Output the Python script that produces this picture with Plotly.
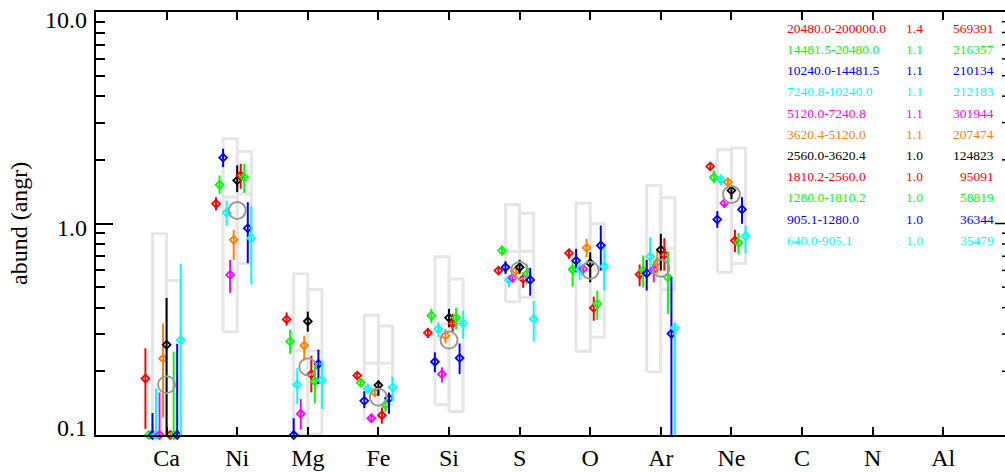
import numpy as np
import plotly.graph_objects as go

# ---- element axis ----
elements = ["Ca", "Ni", "Mg", "Fe", "Si", "S", "O", "Ar", "Ne", "C", "N", "Al"]
fitted = ["Ca", "Ni", "Mg", "Fe", "Si", "S", "O", "Ar", "Ne"]

# ---- y axis labels ----
ytick_vals = [0.1, 1.0, 10.0]
ytick_text = ["0.1", "1.0", "10.0"]
minor_vals = [0.2, 0.3, 0.4, 0.5, 0.6, 0.7, 0.8, 0.9, 2, 3, 4, 5, 6, 7, 8, 9]

# ---- energy bands (legend text) ----
band_ranges = ["20480.0-200000.0", "14481.5-20480.0", "10240.0-14481.5", "7240.8-10240.0",
               "5120.0-7240.8", "3620.4-5120.0", "2560.0-3620.4", "1810.2-2560.0",
               "1280.0-1810.2", "905.1-1280.0", "640.0-905.1"]
band_chi = ["1.4", "1.1", "1.1", "1.1", "1.1", "1.1", "1.0", "1.0", "1.0", "1.0", "1.0"]
band_counts = ["569391", "216357", "210134", "212183", "301944", "207474",
               "124823", "95091", "58819", "36344", "35479"]
band_colors = ["#ff0000", "#00ff00", "#0000ff", "#00ffff", "#ff00ff", "#ff8000",
               "#000000", "#ff0000", "#00ff00", "#0000ff", "#00ffff"]

# ---- abundances per element, one entry per band (value, lower, upper) ----
abund_Ca = [0.185, 0.1, 0.1, 0.1, 0.1, 0.230, 0.267, 0.1, 0.1, 0.1, 0.281]
low_Ca = [0.107, 0.1, 0.05, 0.05, 0.05, 0.121, 0.05, 0.1, 0.05, 0.05, 0.05]
high_Ca = [0.257, 0.1, 0.127, 0.166, 0.159, 0.337, 0.445, 0.1, 0.248, 0.270, 0.645]

abund_Ni = [1.240, 1.525, 2.047, 1.124, 0.572, 0.837, 1.598, 1.687, 1.656, 0.950, 0.852]
low_Ni = [1.152, 1.382, 1.847, 0.978, 0.470, 0.673, 1.407, 1.460, 1.398, 0.649, 0.514]
high_Ni = [1.332, 1.687, 2.258, 1.285, 0.673, 0.934, 1.882, 1.917, 1.917, 1.261, 1.204]

abund_Mg = [0.352, 0.277, 0.1, 0.173, 0.126, 0.265, 0.345, 0.194, 0.179, 0.217, 0.182]
low_Mg = [0.329, 0.242, 0.05, 0.140, 0.106, 0.225, 0.308, 0.159, 0.141, 0.174, 0.133]
high_Mg = [0.380, 0.314, 0.120, 0.207, 0.148, 0.295, 0.383, 0.237, 0.213, 0.253, 0.225]

abund_Fe = [0.191, 0.177, 0.145, 0.165, 0.120, 0.159, 0.172, 0.124, 0.139, 0.149, 0.168]
low_Fe = [0.184, 0.168, 0.134, 0.156, 0.116, 0.151, 0.153, 0.113, 0.128, 0.126, 0.145]
high_Fe = [0.198, 0.186, 0.161, 0.174, 0.126, 0.167, 0.181, 0.135, 0.151, 0.159, 0.189]

abund_Si = [0.304, 0.367, 0.222, 0.317, 0.194, 0.295, 0.358, 0.337, 0.358, 0.231, 0.337]
low_Si = [0.288, 0.339, 0.198, 0.290, 0.177, 0.271, 0.323, 0.306, 0.317, 0.194, 0.285]
high_Si = [0.321, 0.395, 0.246, 0.341, 0.209, 0.317, 0.395, 0.374, 0.399, 0.271, 0.387]

abund_S = [0.599, 0.745, 0.621, 0.541, 0.553, 0.599, 0.621, 0.547, 0.578, 0.541, 0.354]
low_S = [0.578, 0.706, 0.578, 0.500, 0.527, 0.561, 0.578, 0.496, 0.518, 0.456, 0.277]
high_S = [0.617, 0.787, 0.663, 0.567, 0.578, 0.633, 0.673, 0.588, 0.645, 0.617, 0.432]

abund_O = [0.724, 0.606, 0.668, 0.606, 0.610, 0.767, 0.649, 0.399, 0.417, 0.787, 0.628]
low_O = [0.681, 0.503, 0.588, 0.541, 0.578, 0.693, 0.527, 0.347, 0.350, 0.599, 0.482]
high_O = [0.759, 0.663, 0.759, 0.656, 0.633, 0.847, 0.732, 0.451, 0.482, 0.978, 0.772]

abund_Ar = [0.574, 0.601, 0.582, 0.698, 0.606, 0.656, 0.751, 0.711, 0.557, 0.301, 0.321]
low_Ar = [0.505, 0.500, 0.482, 0.588, 0.527, 0.578, 0.599, 0.599, 0.374, 0.05, 0.05]
high_Ar = [0.640, 0.706, 0.673, 0.861, 0.645, 0.745, 0.894, 0.852, 0.739, 0.557, 0.340]

abund_Ne = [1.862, 1.656, 1.045, 1.610, 1.248, 1.569, 1.433, 0.831, 0.810, 1.165, 0.871]
low_Ne = [1.796, 1.551, 0.954, 1.513, 1.187, 1.513, 1.303, 0.732, 0.713, 0.997, 0.724]
high_Ne = [1.917, 1.782, 1.144, 1.706, 1.295, 1.628, 1.485, 0.934, 0.900, 1.332, 0.978]

# combined (all-band) abundance per fitted element
combined = [0.173, 1.152, 0.210, 0.151, 0.281, 0.599, 0.601, 0.614, 1.372]

# summary boxes: left and right of each element (bottom, mid line, top)
left_top = [0.894, 2.518, 0.578, 0.368, 0.696, 1.226, 1.248, 1.513, 2.234]
left_mid = [None, 1.332, 0.2505, 0.2186, 0.3325, 0.739, 0.606, None, None]
left_bot = [0.05, 0.308, 0.101, 0.118, 0.139, 0.427, 0.249, 0.199, 0.588]
right_top = [0.537, 2.192, 0.487, 0.328, 0.547, 1.119, 0.997, 1.323, 2.273]
right_mid = [None, 1.382, 0.2505, 0.2186, 0.3325, 0.739, 0.606, 0.764, 1.217]
right_bot = [0.05, 0.649, 0.101, 0.139, 0.129, 0.448, 0.290, 0.486, 0.647]

values = [abund_Ca, abund_Ni, abund_Mg, abund_Fe, abund_Si, abund_S, abund_O, abund_Ar, abund_Ne]
lows = [low_Ca, low_Ni, low_Mg, low_Fe, low_Si, low_S, low_O, low_Ar, low_Ne]
highs = [high_Ca, high_Ni, high_Mg, high_Fe, high_Si, high_S, high_O, high_Ar, high_Ne]

SERIF = "Liberation Serif, Times New Roman, serif"
BOX_GREY = "#e6e6e6"
BOX_W = 0.2
STEP = 0.05

# plot-area geometry in pixels
plot_top, plot_bot, plot_left, plot_w = 12, 435, 96, 909


def px_x(px):
    return (px - plot_left) / plot_w


def px_y(py):
    return (plot_bot - py) / (plot_bot - plot_top)


xpos = {el: i + 1 for i, el in enumerate(elements)}
fig = go.Figure()

# grey summary boxes
bx, by = [], []
for k, el in enumerate(fitted):
    c = xpos[el]
    for x0, x1, b, m, t in ((c - BOX_W, c, left_bot[k], left_mid[k], left_top[k]),
                            (c, c + BOX_W, right_bot[k], right_mid[k], right_top[k])):
        bx += [x0, x1, x1, x0, x0, None]
        by += [b, b, t, t, b, None]
        if m is not None:
            bx += [x0, x1, None]
            by += [m, m, None]
fig.add_trace(go.Scatter(x=bx, y=by, mode="lines", line=dict(color=BOX_GREY, width=3),
                         hoverinfo="skip", showlegend=False))

# per-band error bars and markers
nb = len(band_ranges)
for b in range(nb):
    off = (b - 6) * STEP
    ex, ey, mx, my = [], [], [], []
    for k, el in enumerate(fitted):
        x = xpos[el] + off
        ex += [x, x, None]
        ey += [lows[k][b], highs[k][b], None]
        mx.append(x)
        my.append(values[k][b])
    fig.add_trace(go.Scatter(x=ex, y=ey, mode="lines",
                             line=dict(color=band_colors[b], width=2),
                             hoverinfo="skip", showlegend=False))
    fig.add_trace(go.Scatter(x=mx, y=my, mode="markers", cliponaxis=False,
                             marker=dict(symbol="diamond-open", size=6,
                                         color=band_colors[b],
                                         line=dict(color=band_colors[b], width=1.8)),
                             name=band_ranges[b], showlegend=False))

# combined abundance circles
fig.add_trace(go.Scatter(x=[xpos[el] for el in fitted], y=combined, mode="markers",
                         marker=dict(symbol="circle-open", size=17, color="#999999",
                                     line=dict(color="#999999", width=2)),
                         showlegend=False))

# band table in the upper right
row0, drow = 28.3, 21.2
for b in range(nb):
    py = px_y(row0 + drow * b)
    for text, px, anchor in ((band_ranges[b], 785, "left"),
                             (band_chi[b], 904, "left"),
                             (band_counts[b], 996, "right")):
        fig.add_annotation(x=px_x(px), y=py, xref="paper", yref="paper",
                           text=text, showarrow=False, xanchor=anchor, yanchor="middle",
                           font=dict(family=SERIF, size=13.5, color=band_colors[b]))

# y tick labels, set slightly off the ticks in the old plotting style
label_nudge = [-7, 4, 8.5]
for v, t, dy in zip(ytick_vals, ytick_text, label_nudge):
    ty = (np.log10(v) + 1) / 2 - dy / (plot_bot - plot_top)
    fig.add_annotation(x=px_x(89), y=ty, xref="paper", yref="paper", text=t,
                       showarrow=False, xanchor="right", yanchor="middle",
                       font=dict(family=SERIF, size=24, color="black"))

# y axis title
fig.add_annotation(x=px_x(19), y=px_y(224), xref="paper", yref="paper",
                   text="abund (angr)", textangle=-90, showarrow=False,
                   xanchor="center", yanchor="middle",
                   font=dict(family=SERIF, size=24, color="black"))

# tick stubs of the right-hand axis
for v in minor_vals + [1.0]:
    ln = 10 if v == 1.0 else 3
    yp = (np.log10(v) + 1) / 2
    fig.add_shape(type="line", xref="paper", yref="paper", x0=1 - ln / plot_w, x1=1,
                  y0=yp, y1=yp, line=dict(color="black", width=1.5))

fig.update_layout(
    width=1005, height=472,
    margin=dict(l=96, r=0, t=12, b=37),
    paper_bgcolor="white", plot_bgcolor="white",
    font=dict(family=SERIF, color="black"),
    xaxis=dict(range=[0, 12.875], tickmode="array", tickvals=list(range(1, 13)),
               ticktext=elements, ticks="inside", ticklen=8, tickwidth=1.5,
               tickcolor="black", showline=True, linewidth=2, linecolor="black",
               mirror="allticks", showgrid=False, zeroline=False,
               tickfont=dict(family=SERIF, size=24)),
    yaxis=dict(type="log", range=[-1, 1], tickmode="array", tickvals=ytick_vals,
               showticklabels=False, ticks="inside", ticklen=17,
               tickwidth=1.5, tickcolor="black", showline=True, linewidth=2,
               linecolor="black", mirror=False, showgrid=False, zeroline=False,
               minor=dict(tickmode="array", tickvals=minor_vals, ticks="inside",
                          ticklen=9, tickwidth=1.5, tickcolor="black", showgrid=False)),
)

fig.write_html("out.html")
